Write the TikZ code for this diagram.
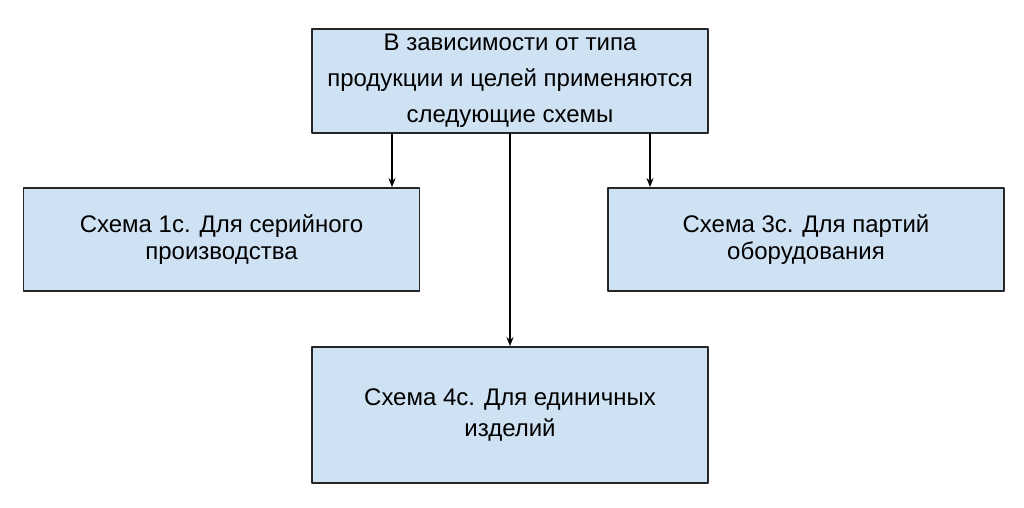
\documentclass[tikz,border=0pt]{standalone}
\usepackage{fontspec}
\setmainfont{Liberation Sans}
\usetikzlibrary{arrows.meta}

\definecolor{boxblue}{HTML}{CFE2F3}

\begin{document}
\begin{tikzpicture}[x=1pt, y=-1pt, line cap=round, line join=round,
		>={Stealth[length=9pt, width=7pt]},
		schema/.style={draw=black!85, fill=boxblue, line width=1.8pt,
			minimum width=396pt, align=center, inner sep=0pt,
			font=\fontsize{24}{27}\selectfont},
		link/.style={->, line width=1.4pt, black}]
	
	% Frame of the picture
	\useasboundingbox (0, 0) rectangle (1024, 507);
	
	% Top box
	\node[schema, minimum height=104pt, font=\fontsize{24}{36}\selectfont] (root) at (510, 81)
		{В зависимости от типа\\продукции и целей применяются\\следующие схемы};
	
	% Scheme boxes
	\node[schema, minimum height=103pt] (s1) at (221.5, 239.5)
		{Схема 1с. Для серийного\\производства};
	\node[schema, minimum height=103pt] (s3) at (806, 239.5)
		{Схема 3с. Для партий\\оборудования};
	\node[schema, minimum height=136pt, font=\fontsize{24}{31}\selectfont] (s4) at (510, 415)
		{Схема 4с. Для единичных\\изделий};
	
	% Arrows from the top box
	\draw[link] ([xshift=-118pt]root.south) -- ([xshift=-118pt]root.south |- s1.north);
	\draw[link] (root.south) -- (s4.north);
	\draw[link] ([xshift=140pt]root.south) -- ([xshift=140pt]root.south |- s3.north);
	
\end{tikzpicture}
\end{document}
